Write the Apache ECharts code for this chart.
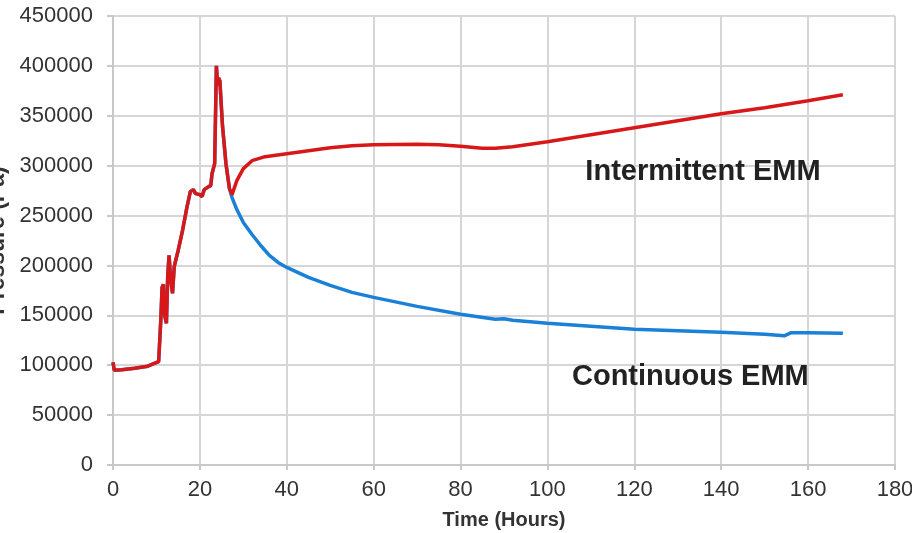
<!DOCTYPE html>
<html>
<head>
<meta charset="utf-8">
<script src="https://cdn.jsdelivr.net/npm/echarts@6/dist/echarts.min.js"></script>
<style>html,body{margin:0;padding:0;background:#fff;}#chart{width:912px;height:533px;}</style>
</head>
<body>
<div id="chart"></div>
<script>
// Shared early part (both tests identical up to ~27 h)
var hoursEarly = [0, 0.3, 2, 5, 8, 10.5, 11.0, 11.3, 11.6, 11.9, 12.3, 12.6, 12.9, 13.3, 13.7, 14.1, 15, 16, 17, 17.8, 18.5, 19, 20, 20.5, 21, 22, 22.5, 22.8, 23.4, 23.8, 24.1, 24.3, 24.6, 25.2, 26, 26.8];
var pressureEarly = [103000, 95000, 95500, 97000, 99000, 103500, 145000, 178000, 181000, 150000, 142000, 190000, 210000, 185000, 172000, 199000, 215000, 235000, 258000, 274000, 276000, 272000, 271000, 269000, 276000, 279000, 280000, 292000, 302000, 400000, 380000, 388000, 385000, 340000, 302000, 277000];

var hoursIntermittent = [27.4, 28.5, 30, 32, 35, 40, 45, 50, 55, 60, 70, 75, 80, 85, 88, 92, 100, 110, 120, 130, 140, 150, 160, 168];
var pressureIntermittent = [271000, 285000, 297000, 305000, 309000, 312000, 315000, 318000, 320000, 321000, 321500, 321000, 319500, 317500, 317500, 319000, 324000, 331000, 338000, 345000, 352000, 358000, 365000, 371000];

var hoursContinuous = [27.4, 28.5, 30, 32, 34, 36, 38, 40, 45, 50, 55, 60, 70, 80, 88, 90, 92, 100, 110, 120, 130, 140, 150, 154.5, 156, 160, 168];
var pressureContinuous = [268000, 256000, 243000, 231000, 220000, 210000, 203000, 198000, 188000, 180000, 173000, 168000, 159000, 151000, 146000, 146500, 145000, 142000, 139000, 136000, 134500, 133000, 131000, 129500, 132500, 132500, 132000];

var seriesNames = ['Intermittent EMM', 'Continuous EMM'];
var labelPos = { 'Intermittent EMM': [135.8, 294000], 'Continuous EMM': [132.9, 88000] };

function pairs(xs, ys) { return xs.map(function (x, i) { return [x, ys[i]]; }); }
var dataIntermittent = pairs(hoursEarly, pressureEarly).concat(pairs(hoursIntermittent, pressureIntermittent));
var dataContinuous = pairs(hoursEarly, pressureEarly).concat(pairs(hoursContinuous, pressureContinuous));

function annot(name) {
  return {
    silent: true,
    symbol: 'rect', symbolSize: 1,
    itemStyle: { color: 'rgba(0,0,0,0)' },
    label: { show: true, position: 'inside', formatter: name, fontFamily: 'Liberation Sans, Arial, sans-serif', fontSize: 29, fontWeight: 'bold', color: '#222' },
    data: [{ coord: labelPos[name] }]
  };
}

var gridColor = '#d6d6d6';
var chart = echarts.init(document.getElementById('chart'), null, { renderer: 'canvas' });
chart.setOption({
  animation: false,
  backgroundColor: '#fff',
  grid: { left: 113, right: 17, top: 16, bottom: 68, containLabel: false, outerBoundsMode: 'none' },
  xAxis: {
    type: 'value', min: 0, max: 180, interval: 20,
    name: 'Time (Hours)', nameLocation: 'middle', nameGap: 45,
    nameTextStyle: { fontFamily: 'Liberation Sans, Arial, sans-serif', fontSize: 20, fontWeight: 'bold', color: '#333' },
    axisLine: { show: true, lineStyle: { color: '#c8c8c8', width: 2 } },
    axisTick: { show: true, length: 5, lineStyle: { color: '#c8c8c8', width: 2 } },
    axisLabel: { margin: 14, fontFamily: 'Liberation Sans, Arial, sans-serif', fontSize: 22, color: '#333' },
    splitLine: { show: true, lineStyle: { color: gridColor, width: 2 } }
  },
  yAxis: {
    type: 'value', min: 0, max: 450000, interval: 50000,
    name: 'Pressure (Pa)', nameLocation: 'middle', nameRotate: 90, nameGap: 104,
    nameTextStyle: { fontFamily: 'Liberation Sans, Arial, sans-serif', fontSize: 23, fontWeight: 'bold', color: '#333' },
    axisLine: { show: true, lineStyle: { color: '#c8c8c8', width: 2 } },
    axisTick: { show: true, length: 6, lineStyle: { color: '#c8c8c8', width: 2 } },
    axisLabel: { margin: 20, fontFamily: 'Liberation Sans, Arial, sans-serif', fontSize: 22, color: '#333', formatter: function (v) { return String(v); } },
    splitLine: { show: true, lineStyle: { color: gridColor, width: 2 } }
  },
  series: [
    { name: seriesNames[1], type: 'line', data: dataContinuous, showSymbol: false, symbol: 'none', lineStyle: { color: '#1a80d8', width: 3.5 }, itemStyle: { color: '#1a80d8' }, z: 2, markPoint: annot(seriesNames[1]) },
    { name: seriesNames[0], type: 'line', data: dataIntermittent, showSymbol: false, symbol: 'none', lineStyle: { color: '#d81818', width: 3.5 }, itemStyle: { color: '#d81818' }, z: 3, markPoint: annot(seriesNames[0]) }
  ]
});
</script>
</body>
</html>
